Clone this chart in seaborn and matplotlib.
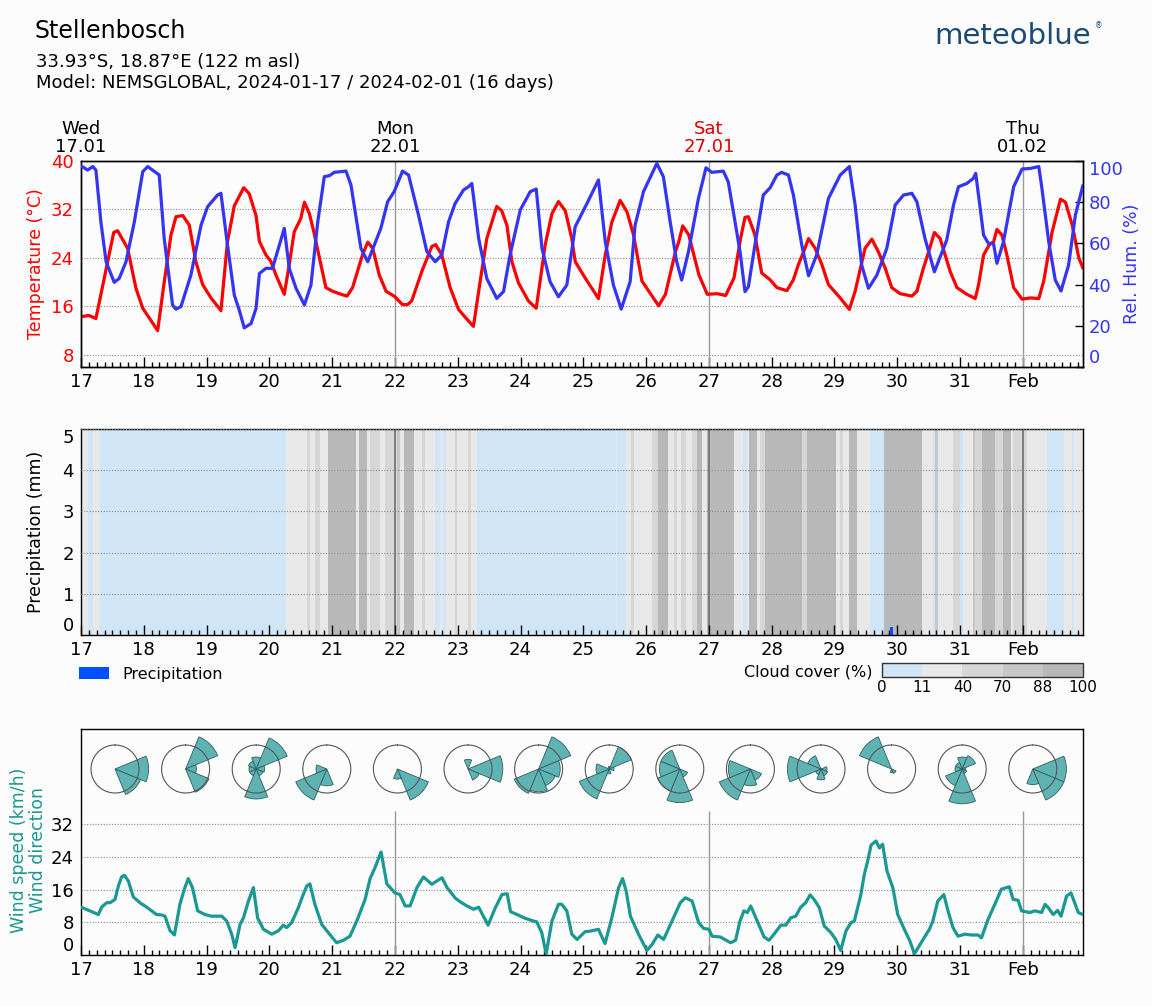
import numpy as np
import matplotlib
matplotlib.use("Agg")
import matplotlib.pyplot as plt
import seaborn as sns
from matplotlib.colors import ListedColormap, BoundaryNorm
from matplotlib.cm import ScalarMappable
from matplotlib.patches import Patch
import matplotlib.transforms as mtransforms

# ---------------- data ----------------
day_hours = list(range(0, 361, 24))
day_labels = ["17", "18", "19", "20", "21", "22", "23", "24", "25", "26",
              "27", "28", "29", "30", "31", "Feb"]
week_hours = [0, 120, 240, 360]
week_labels = ["Wed\n17.01", "Mon\n22.01", "Sat\n27.01", "Thu\n01.02"]
week_colors = ["black", "black", "#e00000", "black"]

temp_hours = [0, 3, 5.7, 12.5, 14, 17.8, 21, 23.6, 29.3, 31.8, 34.4, 36.3, 38.9, 41.4, 43.9,
              46.5, 49.7, 53.5, 56, 58.6, 62.2, 64.3, 66.9, 68.2, 70.7, 72.6, 74.5, 77.7,
              79.6, 81.5, 84, 85.4, 87.3, 89, 91.7, 93.6, 96.2, 99.4, 101.7, 103.8, 107.6,
              109.6, 111.5, 114, 116.6, 119.7, 122.9, 124.8, 126.4, 130.3, 134.1, 135.6,
              137.9, 141.1, 144.3, 147.5, 150, 152.6, 155.1, 158.9, 160.8, 162.8, 164.7,
              167.2, 171, 174, 175.5, 177.4, 180, 182.5, 185.1, 187.6, 188.9, 192.7, 197.8,
              200.4, 202.9, 206.1, 208.7, 211.2, 214.4, 218.3, 220.8, 223.4, 227.2, 228.5,
              230, 232.3, 236.2, 239.4, 243.2, 246.4, 249.6, 252.1, 253.8, 255.1, 257.6,
              260.2, 263.4, 266, 269.8, 272.3, 274.2, 276.2, 278.1, 280.6, 283.2, 285.7,
              290.2, 293.7, 295.9, 299.7, 302.3, 304.8, 307.4, 309.9, 313.1, 317.6, 319.5,
              322, 324, 326.2, 328.4, 332.2, 334.8, 338.6, 341.8, 343.1, 345, 347.5, 348.8,
              350.1, 352, 353.9, 356.5, 359.7, 362.9, 366.1, 368, 371.2, 374.4, 376.3,
              378.9, 381.4, 383]
temp_values = [14.3, 14.5, 14.0, 28.2, 28.5, 25.6, 19.0, 15.7, 12.0, 20.0, 27.8, 30.8, 31.0,
               29.4, 23.4, 19.6, 17.4, 15.3, 26.7, 32.6, 35.6, 34.6, 31.0, 26.7, 24.5, 23.4,
               21.2, 18.0, 22.9, 28.3, 30.5, 33.2, 31.3, 28.3, 22.9, 19.1, 18.5, 18.0, 17.7,
               19.1, 24.5, 26.6, 25.6, 21.2, 18.5, 17.7, 16.3, 16.3, 16.9, 21.8, 25.9, 26.2,
               24.5, 19.1, 15.5, 13.9, 12.7, 20.2, 27.2, 32.5, 31.8, 29.4, 23.4, 19.9, 16.9,
               15.7, 20.2, 26.1, 31.3, 33.3, 31.8, 27.2, 23.4, 20.7, 17.3, 24.5, 29.9, 33.5,
               31.6, 27.8, 20.2, 17.7, 16.1, 18.0, 25.0, 26.7, 29.3, 27.8, 21.2, 18.0, 18.1,
               17.8, 20.7, 27.2, 30.7, 30.8, 27.8, 21.5, 20.4, 19.1, 18.6, 20.4, 22.9, 25.0,
               27.2, 25.6, 22.9, 19.6, 17.4, 15.5, 18.5, 25.6, 27.1, 25.0, 22.3, 19.1, 18.1,
               17.7, 18.5, 22.3, 25.0, 28.2, 27.2, 21.8, 19.1, 18.0, 17.3, 19.6, 24.5, 26.4,
               26.6, 28.7, 27.8, 24.5, 19.1, 17.2, 17.4, 17.3, 20.2, 28.3, 33.7, 33.2, 29.4,
               24.0, 22.3]

hum_hours = [0, 2.5, 4.5, 5.7, 7.6, 9.6, 12.7, 14.6, 17.2, 20.4, 23.6, 25.5, 29.9, 31.8, 35,
             36.3, 38.2, 42, 45.9, 48.4, 52.2, 53.5, 56, 58.6, 60.5, 62.4, 65, 66.9, 68.2,
             70.7, 73.2, 77.7, 79.6, 82.2, 85.4, 87.9, 90.5, 93, 95, 96.8, 101.3, 103.2, 107,
             109.6, 112.1, 114.6, 117.2, 119.7, 122.9, 125.2, 129, 132.2, 135.4, 137.9,
             140.5, 143, 146.2, 148.1, 149.4, 152, 155.1, 158.9, 161.5, 164, 167.9, 171.7,
             174, 176.2, 179.3, 182.5, 185.7, 188.9, 193.4, 197.8, 200.4, 203.5, 206.5,
             209.9, 211.8, 215, 220.1, 222.6, 225.2, 227.7, 229.6, 232.2, 236, 238.9, 241.1,
             245.5, 247.4, 250, 251.9, 253.8, 255.1, 257.6, 260.8, 263.4, 266, 267.8, 270.4,
             272.3, 275.5, 278.1, 281.2, 285.7, 290.2, 293.7, 295.9, 298.4, 301, 304.2, 308,
             311.2, 314.4, 317.6, 319.5, 322.6, 326.2, 330.9, 333.5, 335.4, 338.6, 341.1,
             342, 343.7, 345, 346.9, 348.8, 350.1, 352.6, 356.5, 359.7, 362.9, 366.1, 367.3,
             369.9, 372.4, 374.6, 377.5, 380.1, 383]
hum_values = [97.7, 95.6, 97.3, 95.6, 70.5, 51.1, 41.1, 43.0, 51.1, 70.5, 94.8, 97.3, 93.2,
              62.4, 30.1, 28.1, 29.3, 44.6, 68.9, 77.8, 83.5, 84.3, 59.2, 34.9, 27.6, 19.0,
              21.1, 28.4, 45.4, 47.9, 47.9, 67.3, 47.9, 38.2, 30.1, 39.8, 70.5, 92.4, 92.9,
              94.5, 95.1, 88.3, 57.6, 51.1, 59.2, 67.3, 80.2, 85.1, 95.1, 93.2, 73.8, 56.0,
              51.1, 54.4, 70.5, 79.4, 85.9, 87.5, 89.1, 62.4, 43.0, 33.3, 36.6, 54.4, 76.2,
              85.1, 86.4, 57.6, 41.4, 34.1, 39.8, 68.1, 79.4, 90.8, 60.8, 39.8, 28.1, 41.4,
              68.9, 85.1, 98.8, 92.4, 70.5, 51.1, 42.2, 56.0, 81.8, 96.7, 94.5, 95.1, 89.9,
              70.5, 56.0, 36.6, 39.0, 59.2, 83.5, 87.0, 93.2, 94.5, 93.2, 83.5, 59.2, 44.3,
              54.4, 81.8, 93.2, 97.3, 78.6, 49.5, 38.2, 44.6, 57.6, 78.6, 83.5, 84.3, 80.2,
              62.4, 46.2, 61.6, 78.6, 87.5, 89.1, 91.6, 94.0, 76.9, 64.0, 59.9, 59.9, 50.3,
              60.8, 87.5, 96.1, 96.4, 97.3, 86.7, 60.8, 42.2, 36.9, 49.5, 73.8, 88.3]

# cloud cover: start hour of each band and its class (0: 0-11, 1: 11-40, 2: 40-70, 3: 70-88, 4: 88-100)
cloud_start = [0, 2.7, 4.6, 7.3, 78.4, 86.5, 87.5, 89.4, 91.3, 94.5, 105.3, 106.2, 109.2, 110.4,
               114.2, 116.2, 120.6, 121.9, 123.6, 127.3, 130.2, 131.5, 135.3, 137.2, 138.5,
               139.5, 142.9, 143.9, 147.8, 149.0, 151.5, 204.5, 205.0, 208.3, 210.1, 211.4,
               218.2, 220.5, 224.3, 226.5, 227.7, 229.4, 231.3, 233.6, 235.4, 237.3, 239.4,
               249.6, 253.2, 254.5, 255.4, 258.3, 259.6, 261.5, 275.5, 277.4, 288.6, 290.2,
               291.4, 293.7, 296.5, 301.6, 307.0, 321.4, 325.5, 326.5, 327.5, 333.5, 336.0,
               337.3, 340.9, 341.8, 344.3, 349.4, 352.3, 355.4, 356.4, 361.5, 369.2, 375.8,
               378.7, 379.7]
cloud_class = [1, 0, 1, 0, 1, 2, 1, 2, 1, 4, 1, 4, 1, 2,
               1, 2, 3, 1, 4, 1, 2, 1, 0, 1, 0,
               1, 2, 1, 2, 1, 0, 1, 0, 1, 2, 1,
               2, 4, 1, 2, 1, 2, 1, 2, 4, 1, 4,
               1, 0, 1, 4, 1, 2, 4, 2, 4, 1, 2,
               1, 4, 1, 0, 4, 1, 0, 3, 1, 2, 0,
               1, 3, 2, 4, 2, 4, 1, 2, 1, 0, 1,
               0, 1]
cloud_end_hour = 383
cloud_bounds = [0, 11, 40, 70, 88, 100]
cloud_colors = ["#d0e6f6", "#e8e8e8", "#d6d6d6", "#c6c6c6", "#b8b8b8"]

precip_hours = [309.8]
precip_mm = [0.2]

wind_hours = [0, 3.4, 6.6, 7.9, 9.8, 11.1, 13, 14.3, 15.5, 16.6, 18.1, 20, 22.5, 25.1, 28.9,
              30.8, 32.1, 34, 35.7, 37.8, 39.5, 41, 42.6, 44.6, 47.4, 49.9, 53.8, 55.7, 57.6,
              58.9, 60.8, 62.1, 64, 65.9, 67.5, 69.7, 72.9, 75.4, 77.3, 78.6, 80.5, 83.1,
              84.7, 86.3, 87.5, 89.4, 92, 94.5, 97.7, 100.3, 102.8, 105.4, 108.6, 110.5,
              112.4, 114.7, 116.9, 120, 121.9, 123.9, 125.8, 128.4, 130.9, 134.1, 136, 138,
              139.9, 143.1, 145, 147.5, 150.1, 152, 155.6, 158.4, 160.9, 162.9, 164.2, 166.7,
              169.7, 173, 174.2, 176.1, 177.8, 180, 182.5, 183.8, 185.7, 187.6, 189.6,
              192.7, 195.2, 197.8, 200.3, 202.9, 205.5, 207, 208.4, 210, 213.1, 216.3, 218.3,
              220.5, 222.7, 225.9, 229.1, 231, 233.6, 236.1, 238, 240, 241.2, 244.4, 248.3,
              250.2, 251.9, 253.4, 254.7, 256, 258.5, 261.1, 263, 264.9, 267.5, 269.4, 271.3,
              273.2, 275.1, 277, 278.7, 280.2, 282.2, 284.1, 286.6, 288.5, 290.4, 292.4,
              294.3, 295.6, 298.1, 299.4, 300.7, 302, 303.9, 305.2, 306.4, 308.1, 310.3,
              312.2, 314.7, 316.7, 318.6, 321.1, 324.3, 325.6, 327.5, 329.8, 331.4, 333.3,
              335.2, 337.8, 340.3, 342.9, 344.2, 346.7, 349.3, 351.8, 354.8, 356.3, 358.2,
              359.5, 362.7, 364.6, 367.2, 368.5, 369.7, 371.6, 373.3, 374.6, 376.7, 378.4,
              381.2, 383]
wind_speed = [11.7, 10.8, 9.9, 11.7, 12.8, 12.8, 13.6, 16.9, 19.1, 19.5, 18.1, 14.2, 12.8,
              11.7, 9.9, 9.8, 9.5, 6.0, 4.9, 12.4, 16.1, 18.7, 16.5, 10.8, 9.9, 9.5, 9.5,
              8.3, 5.1, 1.8, 7.5, 9.1, 13.2, 16.5, 9.1, 6.3, 5.1, 5.9, 7.3, 6.7, 7.9, 11.6,
              14.4, 16.9, 17.4, 12.4, 7.5, 5.5, 3.0, 3.6, 4.6, 8.3, 13.6, 18.7, 21.4, 25.2,
              17.4, 15.2, 14.8, 12.0, 12.0, 16.5, 19.1, 17.3, 18.1, 18.9, 16.5, 13.9, 13.0,
              12.0, 11.2, 11.7, 7.3, 11.6, 14.8, 15.0, 10.6, 9.9, 9.0, 8.3, 8.1, 5.5, 0.3,
              8.3, 12.4, 12.4, 10.8, 5.1, 3.8, 5.7, 5.9, 6.3, 2.8, 9.1, 16.5, 18.7, 15.6,
              9.5, 5.1, 1.1, 2.6, 4.9, 3.8, 8.3, 12.8, 14.0, 13.2, 7.9, 6.5, 6.3, 4.6, 4.4,
              3.0, 3.6, 8.3, 10.8, 10.4, 12.0, 8.3, 4.4, 3.6, 5.1, 7.3, 7.3, 9.1, 9.5, 11.7,
              12.8, 14.7, 13.6, 11.6, 7.1, 5.5, 3.8, 1.1, 5.9, 7.9, 8.3, 14.8, 19.7, 23.0,
              26.9, 27.9, 26.2, 27.1, 20.5, 16.5, 9.9, 6.3, 3.6, 0.3, 3.0, 6.3, 8.3, 13.2,
              14.8, 10.8, 6.7, 4.6, 5.1, 4.9, 4.9, 4.2, 8.7, 12.4, 16.1, 16.7, 13.6, 13.4,
              10.8, 10.4, 10.8, 10.4, 12.4, 11.6, 9.9, 10.9, 9.5, 14.4, 15.2, 10.4, 9.9]

# wind roses: relative sector lengths (circle = 1) for N, NE, E, SE, S, SW, W, NW
rose_directions = ["N", "NE", "E", "SE", "S", "SW", "W", "NW"]
rose_lengths = [
    [0.0, 0.0, 1.40, 1.15, 0.0, 0.0, 0.0, 0.0],
    [0.0, 1.45, 0.45, 1.05, 0.0, 0.0, 0.0, 0.0],
    [0.50, 1.40, 0.35, 0.30, 1.25, 0.30, 0.30, 0.35],
    [0.0, 0.0, 0.0, 0.0, 0.70, 1.40, 0.45, 0.0],
    [0.0, 0.0, 0.0, 1.40, 0.42, 0.0, 0.0, 0.0],
    [0.40, 0.0, 1.45, 0.50, 0.0, 0.0, 0.0, 0.0],
    [0.0, 1.45, 0.90, 0.75, 0.95, 1.10, 0.0, 0.0],
    [0.10, 1.00, 0.20, 0.0, 0.20, 1.35, 0.55, 0.0],
    [0.0, 0.0, 0.0, 0.35, 1.40, 1.00, 0.85, 0.85],
    [0.0, 0.0, 0.0, 0.50, 0.70, 1.40, 0.92, 0.0],
    [0.0, 0.0, 0.25, 0.30, 0.45, 0.25, 1.40, 0.60],
    [0.0, 0.0, 0.0, 0.20, 0.15, 0.0, 0.0, 1.45],
    [0.50, 0.60, 0.15, 0.20, 1.45, 0.75, 0.30, 0.30],
    [0.0, 0.0, 1.40, 1.40, 0.65, 0.0, 0.0, 0.0],
]

# ---------------- style ----------------
BG = "#fcfcfc"
RED = "#ff0000"
BLUE = "#3434f4"
TEAL = "#1a9892"
ROSE = "#5fb4b3"
GRID = "#8a8a8a"

sns.set_theme(style="white")
plt.rcParams["font.family"] = ["DejaVu Sans"]
plt.rcParams["axes.edgecolor"] = "black"
plt.rcParams["axes.linewidth"] = 1.0
plt.rcParams["text.color"] = "black"
plt.rcParams["axes.labelcolor"] = "black"
plt.rcParams["xtick.color"] = "black"
plt.rcParams["ytick.color"] = "black"

W, H = 1152, 1006
fig = plt.figure(figsize=(W / 100, H / 100), dpi=100, facecolor=BG)


def fx(px):
    return px / W


def fy(px):
    return 1 - px / H


L, R = 81, 1083
ax1 = fig.add_axes([fx(L), fy(367), fx(R - L), (367 - 161) / H], facecolor=BG)
ax2 = fig.add_axes([fx(L), fy(635), fx(R - L), (635 - 429) / H], facecolor=BG)
ax3 = fig.add_axes([fx(L), fy(955), fx(R - L), (955 - 729) / H], facecolor=BG)


def setup_x(ax):
    ax.set_xlim(0, 383)
    ax.set_xticks(day_hours)
    ax.set_xticklabels(day_labels)
    ax.set_xticks(np.arange(0, 384, 3), minor=True)
    ax.tick_params(axis="x", which="major", direction="in", length=7, width=1,
                   labelsize=13, pad=4, bottom=True, colors="black")
    ax.tick_params(axis="x", which="minor", direction="in", length=3.5, width=1,
                   bottom=True, colors="black")
    for s in ax.spines.values():
        s.set_visible(True)
        s.set_color("black")
        s.set_linewidth(1.0)


# ---------------- panel 1: temperature / humidity ----------------
setup_x(ax1)
ax1.set_ylim(6, 40)
ax1.set_yticks([8, 16, 24, 32, 40])
ax1.tick_params(axis="y", which="both", length=0, labelsize=13, labelcolor=RED, pad=5)
ax1.grid(axis="y", color=GRID, linestyle=(0, (1, 1.5)), linewidth=0.8)
ax1.grid(axis="x", visible=False)
for h in week_hours[1:]:
    ax1.axvline(h, color="#9a9a9a", linewidth=1, zorder=1)
sns.lineplot(x=temp_hours, y=temp_values, ax=ax1, color=RED, linewidth=2.3, zorder=3)
ax1.set_ylabel("Temperature (°C)", color=RED, fontsize=12.5)
ax1.yaxis.set_label_coords(-0.036, 0.5)
ax1.set_xlabel("")

ax1b = ax1.twinx()
ax1b.set_ylim(0, 100)
ax1b.set_xlim(0, 383)
sns.lineplot(x=hum_hours, y=hum_values, ax=ax1b, color=BLUE, linewidth=2.3, zorder=3)
ax1b.set_yticks([0, 20, 40, 60, 80, 100])
ax1b.tick_params(axis="y", which="major", direction="in", length=6, width=1,
                 labelsize=13, pad=4, right=True, colors="black")
for lab in ax1b.get_yticklabels():
    lab.set_color(BLUE)
ylabs = ax1b.get_yticklabels()
ylabs[0].set_verticalalignment("bottom")
ylabs[-1].set_verticalalignment("top")
ax1b.set_ylabel("Rel. Hum. (%)", color=BLUE, fontsize=12.5)
ax1b.yaxis.set_label_coords(1.040, 0.5)
ax1b.set_xlabel("")
ax1b.grid(False)
for s in ax1b.spines.values():
    s.set_visible(True)
    s.set_color("black")

trans = mtransforms.blended_transform_factory(ax1.transData, ax1.transAxes)
for h, lab, c in zip(week_hours, week_labels, week_colors):
    ax1.text(h, 1.025, lab, transform=trans, ha="center", va="bottom",
             fontsize=13, color=c, linespacing=1.0)

# ---------------- panel 2: precipitation / clouds ----------------
setup_x(ax2)
ax2.set_ylim(0, 5)
starts = np.array(cloud_start)
ends = np.append(starts[1:], cloud_end_hour)
ax2.bar(starts, height=5, width=ends - starts, bottom=0, align="edge",
        color=[cloud_colors[c] for c in cloud_class], linewidth=0, zorder=1)
for h in week_hours[1:]:
    ax2.axvline(h, color="#6e6e6e", linewidth=1.2, zorder=2)
ax2.bar(precip_hours, precip_mm, width=0.9, color="#0050ff", linewidth=0, zorder=4)
ax2.set_yticks([0, 1, 2, 3, 4, 5])
ax2.tick_params(axis="y", which="both", length=0, labelsize=13, pad=5)
ax2.set_axisbelow(False)
ax2.grid(axis="y", color=GRID, linestyle=(0, (1, 1.5)), linewidth=0.8, zorder=3)
ax2.grid(axis="x", visible=False)
pl = ax2.get_yticklabels()
pl[0].set_verticalalignment("bottom")
pl[-1].set_verticalalignment("top")
ax2.set_ylabel("Precipitation (mm)", fontsize=12.5, color="black")
ax2.yaxis.set_label_coords(-0.036, 0.5)

fig.legend(handles=[Patch(facecolor="#0050ff", edgecolor="none", label="Precipitation")],
           loc="center left", bbox_to_anchor=(fx(79), fy(674)), frameon=False,
           fontsize=11.5, handlelength=1.9, handleheight=0.75, handletextpad=0.8,
           borderpad=0, borderaxespad=0)

cax = fig.add_axes([fx(882), fy(677), fx(1083 - 882), 14 / H])
cmap = ListedColormap(cloud_colors)
norm = BoundaryNorm(cloud_bounds, cmap.N)
cb = fig.colorbar(ScalarMappable(norm=norm, cmap=cmap), cax=cax, orientation="horizontal",
                  spacing="uniform", ticks=cloud_bounds)
cb.ax.tick_params(length=0, labelsize=11, pad=2, colors="black")
cb.outline.set_linewidth(1)
cb.outline.set_edgecolor("#333333")
fig.text(fx(872), fy(672), "Cloud cover (%)", ha="right", va="center", fontsize=11.5)

# ---------------- panel 3: wind ----------------
setup_x(ax3)
ax3.set_ylim(0, 55.3)
ax3.set_yticks([0, 8, 16, 24, 32])
ax3.tick_params(axis="y", which="both", length=0, labelsize=13, pad=5)
ax3.grid(axis="y", color=GRID, linestyle=(0, (1, 1.5)), linewidth=0.8)
ax3.grid(axis="x", visible=False)
ax3.vlines(week_hours[1:], 0, 35.3, color="#9a9a9a", linewidth=1, zorder=1)
sns.lineplot(x=wind_hours, y=wind_speed, ax=ax3, color=TEAL, linewidth=2.3, zorder=3)
wl = ax3.get_yticklabels()
wl[0].set_verticalalignment("bottom")
ax3.set_ylabel("Wind speed (km/h)\nWind direction", color=TEAL, fontsize=12.5,
               linespacing=1.05)
ax3.yaxis.set_label_coords(-0.034, 0.465)
ax3.set_xlabel("")

theta = np.deg2rad(np.arange(0, 360, 45))
circle_t = np.linspace(0, 2 * np.pi, 200)
size = 84
rmax = (size / 2) / 24.0
for i, lengths in enumerate(rose_lengths):
    cx = 115 + i * 70.6
    cy = 769
    rax = fig.add_axes([fx(cx - size / 2), fy(cy + size / 2), size / W, size / H],
                       projection="polar")
    rax.set_theta_zero_location("N")
    rax.set_theta_direction(-1)
    rax.bar(theta, lengths, width=np.deg2rad(45), bottom=0, color=ROSE,
            edgecolor="#2f5f5e", linewidth=0.6, zorder=2)
    rax.plot(circle_t, np.ones_like(circle_t), color="#555555", linewidth=0.8, zorder=3)
    rax.set_ylim(0, rmax)
    rax.axis("off")

# ---------------- header ----------------
fig.text(fx(35), fy(31), "Stellenbosch", fontsize=17, va="center", ha="left")
fig.text(fx(36), fy(62), "33.93°S, 18.87°E (122 m asl)", fontsize=13, va="center", ha="left")
fig.text(fx(36), fy(83), "Model: NEMSGLOBAL, 2024-01-17 / 2024-02-01 (16 days)", fontsize=13,
         va="center", ha="left")
fig.text(fx(934), fy(36), "meteoblue", fontsize=21, color="#1b4a74", va="center", ha="left",
         fontweight="normal")
fig.text(fx(1095), fy(26), "®", fontsize=5.5, color="#1b4a74", va="center", ha="left")

fig.savefig("out.png", dpi=100, facecolor=BG)
